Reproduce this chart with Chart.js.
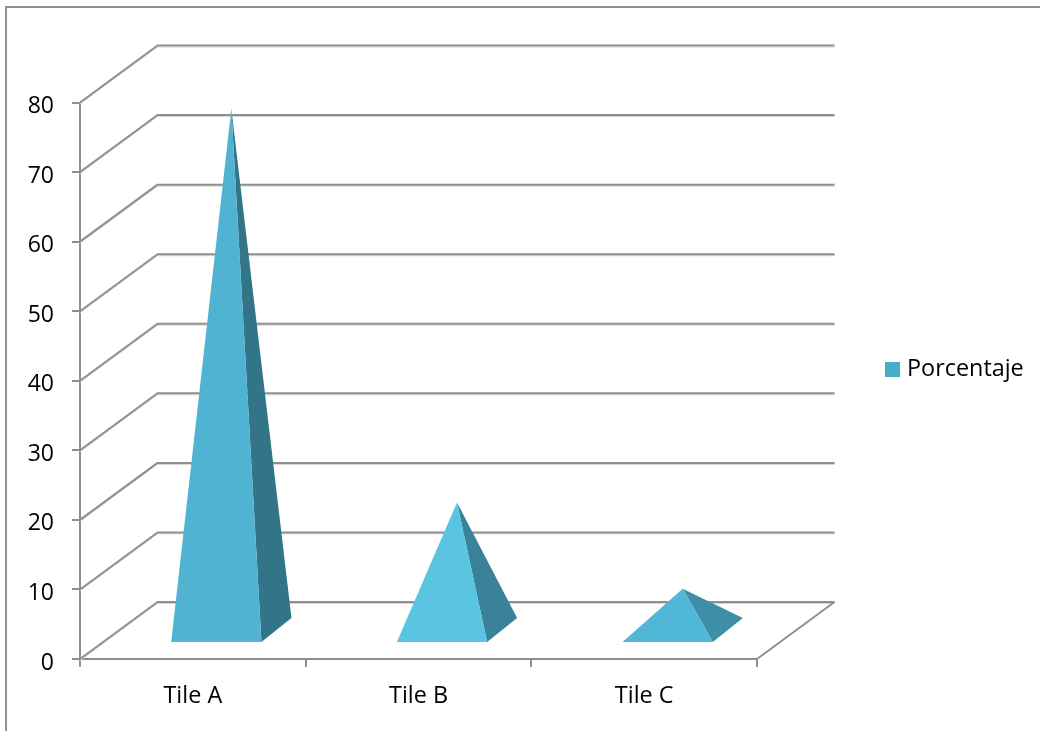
<!DOCTYPE html>
<html>
<head>
<meta charset="utf-8">
<style>
html,body{margin:0;padding:0;background:#fff;overflow:hidden}
#wrap{position:relative;width:1040px;height:731px}
#frame{position:absolute;left:5px;top:6px;right:-4px;bottom:-4px;border-left:2px solid #8f8f8f;border-top:2px solid #8f8f8f}
canvas{position:absolute;left:0;top:0}
</style>
<script src="https://cdn.jsdelivr.net/npm/chart.js@4/dist/chart.umd.min.js"></script>
</head>
<body>
<div id="wrap"><canvas id="c" width="1040" height="731"></canvas><div id="frame"></div></div>
<script>
const categories = ['Tile A', 'Tile B', 'Tile C'];
const seriesName = 'Porcentaje';
const values = [75, 18.4, 6];
const yTicks = [0, 10, 20, 30, 40, 50, 60, 70, 80];
const legendColor = '#4bacc6';
const frontColors = ['#4fb3d1', '#5ac5e1', '#50b8d6'];
const sideColors = ['#337588', '#3a8299', '#3f8ea8'];

const GRID = '#8f8f8f', FONT = '"Open Sans", sans-serif', FONT_SIZE = 23.4;
const DEPTH_X = 77.5, DEPTH_Y = 57;
const FRONT_X = 23.5, FRONT_Y = 17, BASE_DX = 30, BASE_DY = 24;

const swatch = document.createElement('canvas');
swatch.width = 15; swatch.height = 15;
const sw = swatch.getContext('2d');
sw.fillStyle = legendColor;
sw.fillRect(0, 0, 15, 15);

const pyramid3d = {
  id: 'pyramid3d',
  afterLayout(chart) {
    const l = chart.legend;
    const w = l.width, h = l.height;
    l.left = 879.7; l.right = 879.7 + w; l.top = 347.8; l.bottom = 347.8 + h;
    chart.scales.y.getLabelItems().forEach(it => { it.textOffset += 4; });
  },
  beforeDatasetsDraw(chart) {
    const { ctx, chartArea: a, scales: { y } } = chart;
    ctx.save();
    const wall = (off, col, lw) => {
      ctx.strokeStyle = col; ctx.lineWidth = lw; ctx.lineJoin = 'round';
      y.ticks.forEach(t => {
        const p = y.getPixelForValue(t.value);
        ctx.beginPath();
        ctx.moveTo(a.left, p + off);
        ctx.lineTo(a.left + DEPTH_X, p - DEPTH_Y + off);
        ctx.lineTo(a.right + DEPTH_X, p - DEPTH_Y + off);
        ctx.stroke();
      });
    };
    wall(1.5, '#d4d4d4', 1);
    wall(0, GRID, 2);
    const p0 = y.getPixelForValue(0);
    ctx.strokeStyle = GRID; ctx.lineWidth = 2;
    ctx.beginPath();
    ctx.moveTo(a.right, p0);
    ctx.lineTo(a.right + DEPTH_X, p0 - DEPTH_Y);
    ctx.stroke();
    ctx.restore();
  },
  beforeDatasetDraw(chart, args) {
    const { ctx, scales: { y } } = chart;
    const yBase = y.getPixelForValue(0) - FRONT_Y;
    ctx.save();
    args.meta.data.forEach((el, i) => {
      const left = el.x + FRONT_X - el.width / 2;
      const right = left + el.width;
      const apexX = left + el.width / 2 + BASE_DX / 2;
      const apexY = y.getPixelForValue(values[i]) - DEPTH_Y / 2;
      ctx.fillStyle = sideColors[i];
      ctx.beginPath();
      ctx.moveTo(apexX, apexY);
      ctx.lineTo(right, yBase);
      ctx.lineTo(right + BASE_DX, yBase - BASE_DY);
      ctx.closePath();
      ctx.fill();
      ctx.fillStyle = frontColors[i];
      ctx.beginPath();
      ctx.moveTo(apexX, apexY);
      ctx.lineTo(left, yBase);
      ctx.lineTo(right, yBase);
      ctx.closePath();
      ctx.fill();
    });
    ctx.restore();
    return false;
  }
};

new Chart(document.getElementById('c'), {
  type: 'bar',
  data: {
    labels: categories,
    datasets: [{
      label: seriesName,
      data: values,
      backgroundColor: legendColor,
      borderWidth: 0,
      barPercentage: 0.4,
      categoryPercentage: 1
    }]
  },
  plugins: [pyramid3d],
  options: {
    responsive: false,
    animation: false,
    devicePixelRatio: 1,
    layout: { padding: { top: 102.5, right: 283, bottom: 0, left: 0 } },
    plugins: {
      title: { display: false },
      tooltip: { enabled: false },
      legend: {
        position: 'chartArea',
        align: 'start',
        labels: {
          usePointStyle: true, pointStyle: swatch, pointStyleWidth: 5.6,
          boxWidth: 15, boxHeight: 15, padding: 10,
          color: '#000',
          font: { family: FONT, size: FONT_SIZE }
        }
      }
    },
    scales: {
      x: {
        afterFit(s) { s.height = 72; },
        grid: { drawOnChartArea: false, drawTicks: true, tickLength: 8, color: GRID, lineWidth: 2 },
        border: { display: true, color: GRID, width: 2 },
        ticks: { color: '#000', padding: 15, maxRotation: 0, font: { family: FONT, size: FONT_SIZE } }
      },
      y: {
        min: 0, max: 80,
        afterBuildTicks(s) { s.ticks = yTicks.map(v => ({ value: v })); },
        afterFit(s) { s.width = 80; },
        grid: { drawOnChartArea: false, drawTicks: true, tickLength: 8, color: GRID, lineWidth: 2 },
        border: { display: true, color: GRID, width: 2 },
        ticks: { color: '#000', padding: 18, font: { family: FONT, size: 23 } }
      }
    }
  }
});
</script>
</body>
</html>
